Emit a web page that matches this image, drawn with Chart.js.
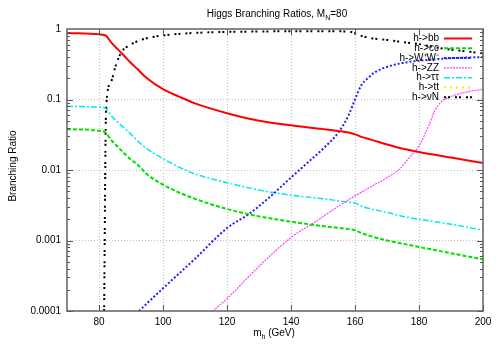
<!DOCTYPE html>
<html>
<head>
<meta charset="utf-8">
<script src="https://cdn.jsdelivr.net/npm/chart.js@4.4.0/dist/chart.umd.min.js"></script>
<style>
html, body { margin: 0; padding: 0; background: #fff; }
#wrap { width: 500px; height: 350px; }
</style>
</head>
<body>
<div id="wrap"><canvas id="brChart" width="500" height="350"></canvas></div>
<script>
// Higgs mass points (GeV) shared by bb, cc and tau tau
const mass = [70, 80, 82, 84, 86, 88, 90, 92, 95, 100, 105, 110, 120, 130, 140, 150, 158, 160, 162.5, 165, 170, 175, 180, 190, 200];
const brBB = [0.88, 0.84, 0.81, 0.63, 0.51, 0.41, 0.33, 0.27, 0.20, 0.14, 0.11, 0.088, 0.064, 0.050, 0.043, 0.038, 0.034, 0.032, 0.029, 0.027, 0.023, 0.020, 0.018, 0.015, 0.0126];
const brCC = [0.038, 0.036, 0.034, 0.026, 0.021, 0.017, 0.014, 0.012, 0.0087, 0.0062, 0.0048, 0.0039, 0.0028, 0.0022, 0.00185, 0.0016, 0.00145, 0.0014, 0.00125, 0.00115, 0.001, 0.0009, 0.00081, 0.00066, 0.00054];
const brTauTau = [0.080, 0.078, 0.075, 0.058, 0.047, 0.039, 0.032, 0.026, 0.020, 0.0145, 0.011, 0.0088, 0.0066, 0.0052, 0.0044, 0.0039, 0.0035, 0.0034, 0.0030, 0.0028, 0.0025, 0.0022, 0.0020, 0.0017, 0.0014];

const massWW = [92.5, 100, 110, 120, 127, 133, 139, 145, 150, 155, 158, 160, 162, 164, 166, 170, 175, 180, 190, 200];
const brWW = [0.0001, 0.00021, 0.00055, 0.0015, 0.0024, 0.0040, 0.0071, 0.0125, 0.020, 0.035, 0.06, 0.10, 0.16, 0.20, 0.24, 0.29, 0.33, 0.355, 0.385, 0.40];

const massZZ = [115.6, 120, 130, 140, 148, 155, 160, 165, 170, 174, 177, 180, 183, 185, 187, 190, 195, 200];
const brZZ = [0.0001, 0.00015, 0.00043, 0.0011, 0.0019, 0.0031, 0.0043, 0.0058, 0.0078, 0.0104, 0.015, 0.022, 0.042, 0.07, 0.093, 0.11, 0.128, 0.14];

const massTT = [];
const brTT = [];

const massNuN = [81.6, 82.2, 83.6, 85.2, 87, 89.3, 93.5, 100, 110, 120, 130, 140, 150, 158, 160, 162, 165, 170, 175, 180, 185, 190, 200];
const brNuN = [0.0001, 0.07, 0.17, 0.30, 0.47, 0.58, 0.71, 0.81, 0.88, 0.91, 0.92, 0.93, 0.93, 0.92, 0.87, 0.80, 0.74, 0.70, 0.65, 0.61, 0.55, 0.51, 0.45];

const xTickValues = [80, 100, 120, 140, 160, 180, 200];
const yTickValues = [0.0001, 0.001, 0.01, 0.1, 1];
const yTickLabels = ['0.0001', '0.001', '0.01', '0.1', '1'];

const FONT = "'Liberation Sans', Arial, sans-serif";

function pts(xs, ys) {
    return xs.map((m, i) => ({ x: m, y: ys[i] }));
}

// gnuplot style key: text right aligned, sample line to its right
const keyPlugin = {
    id: 'key',
    afterDraw(chart) {
        const ctx = chart.ctx;
        const a = chart.chartArea;
        ctx.save();
        ctx.font = '10px ' + FONT;
        ctx.textAlign = 'right';
        ctx.textBaseline = 'middle';
        chart.data.datasets.forEach((ds, i) => {
            const y = a.top + 9.5 + i * 9.8;
            ctx.fillStyle = '#000';
            ctx.fillText(ds.label, a.right - 44, y);
            ctx.beginPath();
            ctx.setLineDash(ds.borderDash || []);
            ctx.lineWidth = ds.borderWidth;
            ctx.strokeStyle = ds.borderColor;
            ctx.moveTo(a.right - 39, y);
            ctx.lineTo(a.right - 11, y);
            ctx.stroke();
        });
        ctx.restore();
    }
};

// border, inward ticks, title and axis labels
const framePlugin = {
    id: 'frame',
    afterDraw(chart) {
        const { ctx, chartArea: a, scales } = chart;
        const x = scales.x, y = scales.y;
        ctx.save();
        ctx.strokeStyle = '#555';
        ctx.lineWidth = 1;
        ctx.setLineDash([]);
        ctx.beginPath();
        for (let e = -4; e < 0; e++) {
            for (let k = 1; k < 10; k++) {
                const py = Math.round(y.getPixelForValue(k * Math.pow(10, e))) + 0.5;
                const len = k === 1 ? 6 : 3;
                ctx.moveTo(a.left, py); ctx.lineTo(a.left + len, py);
                ctx.moveTo(a.right, py); ctx.lineTo(a.right - len, py);
            }
        }
        xTickValues.forEach(v => {
            const px = Math.round(x.getPixelForValue(v)) + 0.5;
            ctx.moveTo(px, a.top); ctx.lineTo(px, a.top + 6);
            ctx.moveTo(px, a.bottom); ctx.lineTo(px, a.bottom - 6);
        });
        ctx.stroke();
        ctx.lineWidth = 1.5;
        ctx.strokeStyle = '#606060';
        ctx.strokeRect(a.left, a.top, a.right - a.left, a.bottom - a.top);

        ctx.fillStyle = '#000';
        ctx.textBaseline = 'alphabetic';
        // title with subscript
        const big = '10px ' + FONT, small = '7px ' + FONT;
        const t1 = 'Higgs Branching Ratios, M', t2 = 'N', t3 = '=80';
        ctx.font = big; const w1 = ctx.measureText(t1).width, w3 = ctx.measureText(t3).width;
        ctx.font = small; const w2 = ctx.measureText(t2).width;
        let tx = 277 - (w1 + w2 + w3) / 2;
        ctx.textAlign = 'left';
        ctx.font = big; ctx.fillText(t1, tx, 17); tx += w1;
        ctx.font = small; ctx.fillText(t2, tx, 19.5); tx += w2;
        ctx.font = big; ctx.fillText(t3, tx, 17);

        // x axis title with subscript
        const s1 = 'm', s2 = 'h', s3 = ' (GeV)';
        ctx.font = big; const v1 = ctx.measureText(s1).width, v3 = ctx.measureText(s3).width;
        ctx.font = small; const v2 = ctx.measureText(s2).width;
        let sx = 274 - (v1 + v2 + v3) / 2;
        ctx.font = big; ctx.fillText(s1, sx, 336); sx += v1;
        ctx.font = small; ctx.fillText(s2, sx, 338.5); sx += v2;
        ctx.font = big; ctx.fillText(s3, sx, 336);

        // y axis title
        ctx.translate(15.5, 166);
        ctx.rotate(-Math.PI / 2);
        ctx.textAlign = 'center';
        ctx.font = big;
        ctx.fillText('Branching Ratio', 0, 0);
        ctx.restore();
    }
};

const ctx = document.getElementById('brChart').getContext('2d');

new Chart(ctx, {
    type: 'line',
    data: {
        datasets: [
            { label: 'h->bb', data: pts(mass, brBB), borderColor: '#ff0000', borderWidth: 2 },
            { label: 'h->cc', data: pts(mass, brCC), borderColor: '#00e000', borderWidth: 2, borderDash: [4, 2] },
            { label: 'h->W\u207aW\u207b', data: pts(massWW, brWW), borderColor: '#2020ff', borderWidth: 2, borderDash: [2, 2] },
            { label: 'h->ZZ', data: pts(massZZ, brZZ), borderColor: '#ff40ff', borderWidth: 1.2, borderDash: [2, 1] },
            { label: 'h->\u03c4\u03c4', data: pts(mass, brTauTau), borderColor: '#00e8f0', borderWidth: 1.5, borderDash: [6, 2, 2, 2] },
            { label: 'h->tt', data: pts(massTT, brTT), borderColor: '#f0f000', borderWidth: 2, borderDash: [2, 4] },
            { label: 'h->\u03bdN', data: pts(massNuN, brNuN), borderColor: '#000000', borderWidth: 2, borderDash: [2, 2, 2, 5] }
        ]
    },
    options: {
        responsive: false,
        animation: false,
        devicePixelRatio: 1,
        layout: { padding: { top: 29, right: 17, bottom: 0, left: 0 } },
        elements: {
            point: { radius: 0 },
            line: { fill: false, cubicInterpolationMode: 'monotone' }
        },
        plugins: {
            legend: { display: false },
            title: { display: false },
            tooltip: { enabled: false }
        },
        scales: {
            x: {
                type: 'linear',
                min: 70,
                max: 200,
                afterBuildTicks: s => { s.ticks = xTickValues.map(v => ({ value: v })); },
                afterFit: s => { s.height = 39; },
                ticks: {
                    color: '#000',
                    font: { family: FONT, size: 10 },
                    padding: 5,
                    maxRotation: 0
                },
                grid: {
                    color: c => (c.tick && c.tick.value === 200) ? 'rgba(0,0,0,0)' : '#c0c0c0',
                    drawTicks: false
                },
                border: { display: false, dash: [1, 2] }
            },
            y: {
                type: 'logarithmic',
                min: 0.0001,
                max: 1,
                afterBuildTicks: s => { s.ticks = yTickValues.map(v => ({ value: v })); },
                afterFit: s => { s.width = 67; },
                ticks: {
                    color: '#000',
                    font: { family: FONT, size: 10 },
                    padding: 6,
                    callback: v => yTickLabels[yTickValues.indexOf(v)]
                },
                grid: {
                    color: c => (c.tick && (c.tick.value === 1 || c.tick.value === 0.0001)) ? 'rgba(0,0,0,0)' : '#c0c0c0',
                    drawTicks: false
                },
                border: { display: false, dash: [1, 2] }
            }
        }
    },
    plugins: [framePlugin, keyPlugin]
});
</script>
</body>
</html>
